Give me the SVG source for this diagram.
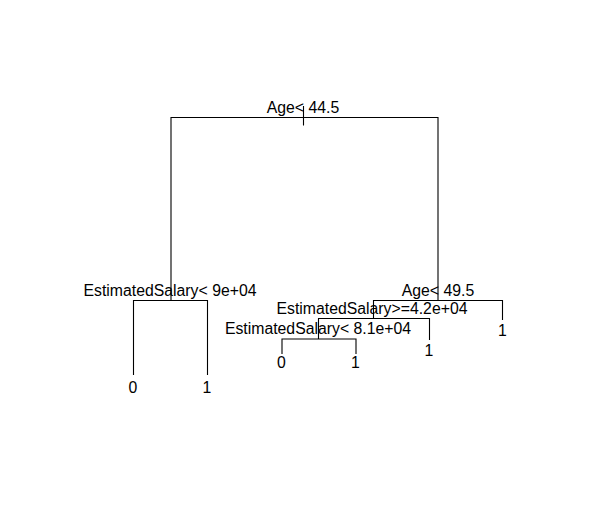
<svg xmlns="http://www.w3.org/2000/svg" width="598" height="514" viewBox="0 0 598 514">
<style>
text{font-family:"Liberation Sans",Arial,sans-serif;font-size:15.8px;fill:#000;text-anchor:middle}
.e{fill:none;stroke:#000;stroke-width:1.1}
</style>
<rect width="598" height="514" fill="#fff"/>
<g id="connectors">
<path class="e" d="M303.5 106V125.5M171 300.5V117.5H438V300.5"/>
<path class="e" d="M133.5 375V300.5H207.5V375"/>
<path class="e" d="M373.5 318.5V300.5H502.5V320"/>
<path class="e" d="M318.5 339V318.5H429.5V340"/>
<path class="e" d="M282 354V339H356V354"/>
</g>
<g id="n-root"><text x="303" y="112.5">Age&lt; 44.5</text></g>
<g id="n-left"><text x="170" y="296">EstimatedSalary&lt; 9e+04</text></g>
<g id="n-leaf-l0"><text x="133" y="393">0</text></g>
<g id="n-leaf-l1"><text x="207" y="393">1</text></g>
<g id="n-right"><text x="438" y="296">Age&lt; 49.5</text></g>
<g id="n-leaf-r1"><text x="502.5" y="336">1</text></g>
<g id="n-rl"><text x="372" y="314.3">EstimatedSalary&gt;=4.2e+04</text></g>
<g id="n-leaf-rl1"><text x="429" y="355.5">1</text></g>
<g id="n-rll"><text x="318" y="334.3">EstimatedSalary&lt; 8.1e+04</text></g>
<g id="n-leaf-rll0"><text x="281.5" y="367.5">0</text></g>
<g id="n-leaf-rll1"><text x="355.5" y="367.5">1</text></g>
</svg>
